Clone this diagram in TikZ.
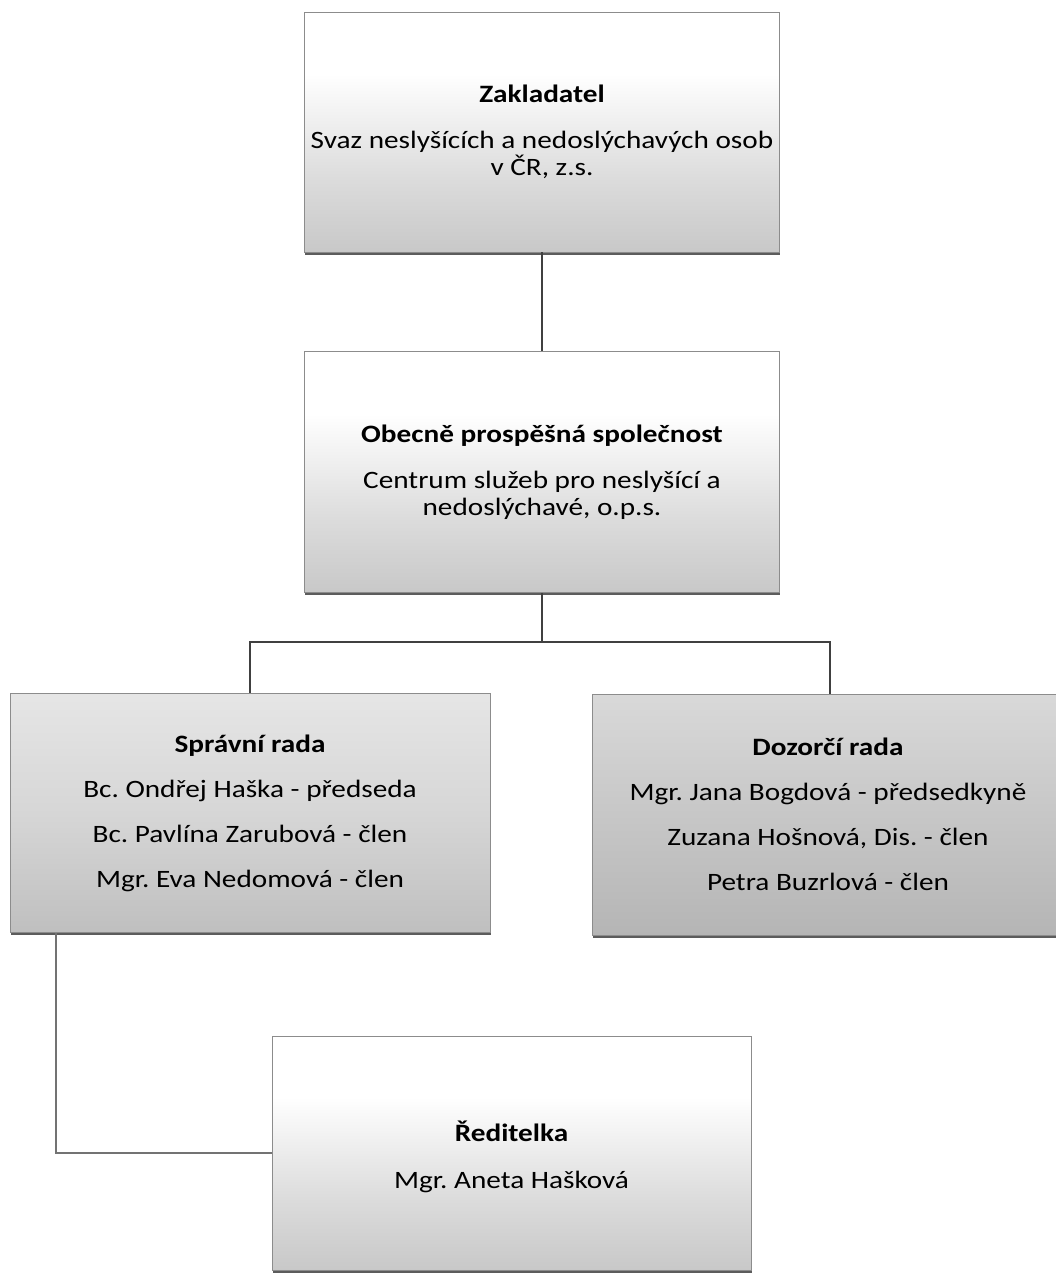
\documentclass[tikz,border=0pt]{standalone}
\usepackage{fontspec}
\setmainfont{Carlito}[FakeStretch=1.17]
\usetikzlibrary{shadows}
\frenchspacing

\pgfdeclareverticalshading{boxfade}{100bp}{color(0bp)=(black!34); color(40bp)=(black!14); color(62bp)=(white); color(100bp)=(white)}
\pgfdeclareverticalshading{boxfadegrey}{100bp}{color(0bp)=(black!36); color(50bp)=(black!22); color(100bp)=(black!8)}
\pgfdeclareverticalshading{boxfadelight}{100bp}{color(0bp)=(black!34); color(50bp)=(black!16); color(100bp)=(black!4)}

\begin{document}
\begin{tikzpicture}[x=1pt,y=-1pt,
    orgbox/.style={draw=black!45, line width=0.8pt, shading=#1, inner sep=0pt,
      drop shadow={shadow xshift=0.6pt, shadow yshift=-2.8pt, fill=black!75, opacity=0.85}},
    orgbox/.default=boxfade,
    orgtext/.style={align=center, inner sep=0pt, font=\fontsize{25pt}{27pt}\selectfont},
    link/.style={draw=black!75, line width=2pt},
    sublink/.style={draw=black!55, line width=1.8pt}]
  \useasboundingbox[fill=white] (0,0) rectangle (1055,1276);

  % boxes
  \node[orgbox, minimum width=475pt, minimum height=240pt] (zakl) at (542,132) {};
  \node[orgbox, minimum width=475pt, minimum height=241pt] (obec) at (542,472) {};
  \node[orgbox=boxfadelight, minimum width=480pt, minimum height=239pt] (sprava) at (250,813) {};
  \node[orgbox=boxfadegrey, minimum width=476pt, minimum height=241pt] (dozor) at (830,814.5) {};
  \node[orgbox, minimum width=479pt, minimum height=234pt] (reditel) at (511.5,1153) {};

  % texts
  \node[orgtext] (zakltxt) at (542,132) {\textbf{Zakladatel}\\[19pt]
    Svaz neslyšících a nedoslýchavých osob\\ v ČR, z.s.};
  \node[orgtext] (obectxt) at (542,472) {\textbf{Obecně prospěšná společnost}\\[19pt]
    Centrum služeb pro neslyšící a\\ nedoslýchavé, o.p.s.};
  \node[orgtext] (spravatxt) at (250,813) {\textbf{Správní rada}\\[18pt]
    Bc. Ondřej Haška - předseda\\[18pt] Bc. Pavlína Zarubová - člen\\[18pt] Mgr. Eva Nedomová - člen};
  \node[orgtext] (dozortxt) at (828,814.5) {\textbf{Dozorčí rada}\\[18pt]
    Mgr. Jana Bogdová - předsedkyně\\[18pt] Zuzana Hošnová, Dis. - člen\\[18pt] Petra Buzrlová - člen};
  \node[orgtext] (reditxt) at (511.5,1157) {\textbf{Ředitelka}\\[20pt] Mgr. Aneta Hašková};

  % connectors
  \coordinate (bar) at (542,642);
  \draw[link] (zakl.south) -- (obec.north);
  \draw[link] (obec.south) -- (bar) -| (sprava.north);
  \draw[link] (bar) -| (dozor.north);
  \draw[sublink] (sprava.south west) ++(46,0) |- (reditel.west);
\end{tikzpicture}
\end{document}
